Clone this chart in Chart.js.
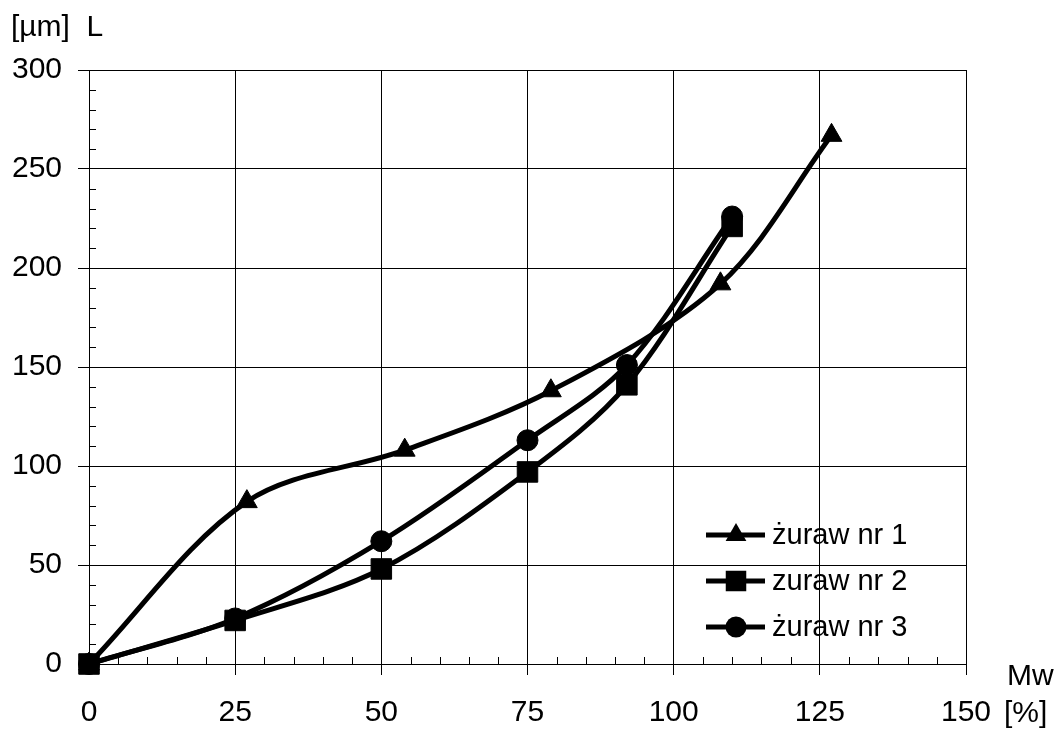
<!DOCTYPE html>
<html>
<head>
<meta charset="utf-8">
<script src="https://cdn.jsdelivr.net/npm/chart.js@4.4.0/dist/chart.umd.min.js"></script>
<style>
  html, body { margin: 0; padding: 0; background: #fff; }
  #wrap { width: 1058px; height: 729px; }
</style>
</head>
<body>
<div id="wrap"><canvas id="chart" width="1058" height="729"></canvas></div>
<script>
// values (Mw [%] -> L [µm])
const seriesNames = ['żuraw nr 1', 'zuraw nr 2', 'żuraw nr 3'];
const mw1 = [0, 27, 54, 79, 108, 127];
const len1 = [0, 82, 108, 138, 192, 267];
const mw2 = [0, 25, 50, 75, 92, 110];
const len2 = [0, 22, 48, 97, 141, 221];
const mw3 = [0, 25, 50, 75, 92, 110];
const len3 = [0, 23, 62, 113, 151, 226];

const xTicks = [0, 25, 50, 75, 100, 125, 150];
const yTicks = [0, 50, 100, 150, 200, 250, 300];
const xMinorStep = 5;
const yMinorStep = 10;

const yTitle = '[µm]  L';
const xTitle = 'Mw';
const xUnit = '[%]';

const FONT = "'Liberation Sans', Arial, sans-serif";

// marker look for each series (same in plot and legend)
const markers = [
  { style: 'triangle', radius: 12 },
  { style: 'rect', radius: 14.5 },
  { style: 'circle', radius: 10.5 }
];

function toPoints(xs, ys) {
  return xs.map((x, i) => ({ x: x, y: ys[i] }));
}

// same geometry as Chart.js point styles
function drawMarker(ctx, style, r, x, y) {
  ctx.beginPath();
  if (style === 'triangle') {
    ctx.moveTo(x, y - r);
    ctx.lineTo(x + r * Math.sin(2 * Math.PI / 3), y - r * Math.cos(2 * Math.PI / 3));
    ctx.lineTo(x + r * Math.sin(4 * Math.PI / 3), y - r * Math.cos(4 * Math.PI / 3));
    ctx.closePath();
  } else if (style === 'rect') {
    const s = r * Math.SQRT1_2;
    ctx.rect(x - s, y - s, 2 * s, 2 * s);
  } else {
    ctx.arc(x, y, r, 0, Math.PI * 2);
  }
  ctx.fill();
}

// small inside ticks between the labelled ones
const minorTicks = {
  id: 'minorTicks',
  beforeDatasetsDraw(chart) {
    const { ctx, chartArea: a, scales: { x, y } } = chart;
    ctx.save();
    ctx.strokeStyle = '#000';
    ctx.lineWidth = 1;
    ctx.beginPath();
    for (let v = x.min + xMinorStep; v < x.max; v += xMinorStep) {
      if (xTicks.includes(v)) continue;
      const px = Math.round(x.getPixelForValue(v)) + 0.5;
      ctx.moveTo(px, a.bottom);
      ctx.lineTo(px, a.bottom - 7);
    }
    for (let v = y.min + yMinorStep; v < y.max; v += yMinorStep) {
      if (yTicks.includes(v)) continue;
      const py = Math.round(y.getPixelForValue(v)) + 0.5;
      ctx.moveTo(a.left, py);
      ctx.lineTo(a.left + 7, py);
    }
    ctx.stroke();
    ctx.restore();
  }
};

// axis titles + legend inside the plot
const extras = {
  id: 'extras',
  afterDraw(chart) {
    const { ctx, chartArea: a } = chart;
    ctx.save();
    ctx.fillStyle = '#000';
    ctx.font = '30px ' + FONT;
    ctx.textAlign = 'left';
    ctx.textBaseline = 'alphabetic';
    ctx.fillText(yTitle, 11, 36);
    ctx.fillText(xTitle, a.right + 41, a.bottom + 21);
    ctx.fillText(xUnit, a.right + 38, a.bottom + 58);

    // legend
    ctx.font = '29px ' + FONT;
    const lx = a.right - 260;
    const rowsY = [a.bottom - 129, a.bottom - 83, a.bottom - 37];
    chart.data.datasets.forEach((ds, i) => {
      const ly = rowsY[i];
      ctx.strokeStyle = '#000';
      ctx.lineWidth = 5;
      ctx.beginPath();
      ctx.moveTo(lx, ly);
      ctx.lineTo(lx + 59, ly);
      ctx.stroke();
      drawMarker(ctx, markers[i].style, markers[i].radius, lx + 30, ly);
      ctx.textBaseline = 'middle';
      ctx.fillText(ds.label, lx + 66, ly + 1);
    });
    ctx.restore();
  }
};

function makeDataset(i, xs, ys) {
  return {
    label: seriesNames[i],
    data: toPoints(xs, ys),
    borderColor: '#000',
    borderWidth: 5,
    backgroundColor: '#000',
    pointStyle: markers[i].style,
    pointRadius: markers[i].radius,
    pointBackgroundColor: '#000',
    pointBorderColor: '#000',
    pointBorderWidth: 1,
    tension: 0.33,
    fill: false,
    clip: false
  };
}

const tickFont = { family: FONT, size: 30 };

new Chart(document.getElementById('chart').getContext('2d'), {
  type: 'line',
  data: {
    datasets: [
      makeDataset(0, mw1, len1),
      makeDataset(1, mw2, len2),
      makeDataset(2, mw3, len3)
    ]
  },
  options: {
    responsive: false,
    animation: false,
    layout: { padding: { top: 70, right: 92, left: 0, bottom: 0 } },
    plugins: {
      legend: { display: false },
      tooltip: { enabled: false }
    },
    scales: {
      x: {
        type: 'linear',
        min: 0,
        max: 150,
        afterBuildTicks: s => { s.ticks = xTicks.map(v => ({ value: v })); },
        afterFit: s => { s.height = 65; },
        ticks: { font: tickFont, color: '#000', padding: 20, maxRotation: 0, autoSkip: false },
        grid: { color: '#000', lineWidth: 1, tickLength: 11 },
        border: { color: '#000', width: 1 }
      },
      y: {
        type: 'linear',
        min: 0,
        max: 300,
        afterBuildTicks: s => { s.ticks = yTicks.map(v => ({ value: v })); },
        afterFit: s => { s.width = 89; },
        ticks: { font: tickFont, color: '#000', padding: 16, autoSkip: false },
        grid: { color: '#000', lineWidth: 1, tickLength: 11 },
        border: { color: '#000', width: 1 }
      }
    }
  },
  plugins: [minorTicks, extras]
});
</script>
</body>
</html>
